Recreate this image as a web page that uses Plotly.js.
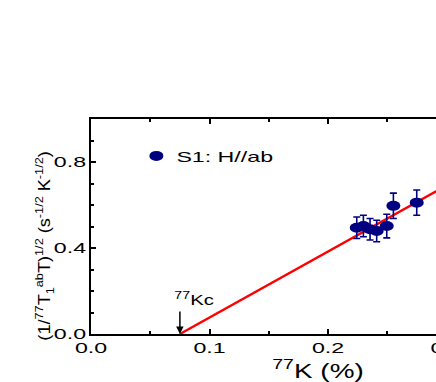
<!DOCTYPE html>
<html><head><meta charset="utf-8">
<script src="https://cdn.plot.ly/plotly-3.0.1.min.js"></script>
<style>html,body{margin:0;padding:0;overflow:hidden;background:#fff;width:436px;height:382px}</style>
</head><body>
<div id="chart"></div>
<script>
// Data
var kx = [0.2242, 0.2298, 0.2354, 0.2410, 0.2495, 0.2551, 0.2748];
var rateY = [0.494, 0.502, 0.487, 0.479, 0.502, 0.596, 0.611];
var rateErr = [0.05, 0.05, 0.05, 0.05, 0.055, 0.059, 0.059];
var fitX = [0.075, 0.383];
var fitY = [0.0, 0.945];
var kc = 0.075;
var seriesName = 'S1: H//ab';
var xTitle = '<sup>77</sup>K (%)';
var yTitle = '(1/<sup>77</sup>T<sub>1</sub><sup>ab</sup>T)<sup>1/2</sup> (s<sup>-1/2</sup> K<sup>-1/2</sup>)';
var kcLabel = '<sup>77</sup>Kc';

var FAM = 'Liberation Sans, Arial, sans-serif';
var traces = [
  {x: fitX, y: fitY, mode: 'lines', line: {color: '#ff0000', width: 2.4}, showlegend: false, hoverinfo: 'skip'},
  {x: kx, y: rateY, mode: 'markers', name: seriesName,
   marker: {color: '#000080', size: 10, symbol: 'circle'},
   error_y: {type: 'data', array: rateErr, visible: true, color: '#000080', thickness: 1.6, width: 3.5}}
];

var layout = {
  width: 560, height: 382,
  margin: {l: 91, r: 15, t: 119, b: 48},
  paper_bgcolor: '#fff', plot_bgcolor: '#fff',
  font: {family: FAM, size: 14, color: '#000'},
  showlegend: true,
  legend: {x: 0.1, y: 0.828, xanchor: 'left', yanchor: 'middle', bgcolor: 'rgba(0,0,0,0)', font: {size: 14.5}},
  xaxis: {
    range: [0, 0.383], dtick: 0.1, tickformat: '.1f', showgrid: false, zeroline: false,
    showline: true, linecolor: '#000', linewidth: 2, mirror: 'ticks',
    ticks: 'inside', ticklen: 5, tickwidth: 2, tickcolor: '#000',
    minor: {dtick: 0.05, ticks: 'inside', ticklen: 3, tickwidth: 2, tickcolor: '#000'},
    tickfont: {size: 14.5},
    title: {text: xTitle, font: {size: 21}, standoff: 1}
  },
  yaxis: {
    range: [0, 1.0], dtick: 0.4, tickformat: '.1f', showgrid: false, zeroline: false,
    showline: true, linecolor: '#000', linewidth: 2, mirror: 'ticks',
    ticks: 'inside', ticklen: 5, tickwidth: 2, tickcolor: '#000',
    minor: {dtick: 0.1, ticks: 'inside', ticklen: 3, tickwidth: 2, tickcolor: '#000'},
    tickfont: {size: 14.5}
  },
  annotations: [
    {x: kc, y: 0, xref: 'x', yref: 'y', text: '', showarrow: true, arrowhead: 2, arrowsize: 1, arrowwidth: 1.5, arrowcolor: '#000', ax: 0, ay: -24},
    {x: kc, y: 0.1, xref: 'x', yref: 'y', text: kcLabel, showarrow: false, xanchor: 'left', yanchor: 'bottom', xshift: -2, yshift: 3, font: {size: 14.5}},
    {x: -0.103, y: 0.41, xref: 'paper', yref: 'paper', text: yTitle, showarrow: false, textangle: -90, xanchor: 'center', yanchor: 'middle', font: {size: 16.5}}
  ]
};

function stretchText(nodes, s) {
  nodes.forEach(function (t) {
    var x = parseFloat(t.getAttribute('x')) || 0;
    var y = parseFloat(t.getAttribute('y')) || 0;
    var tr = t.getAttribute('transform') || '';
    t.setAttribute('transform', tr + ' translate(' + x + ',' + y + ') scale(' + s + ',1) translate(' + (-x) + ',' + (-y) + ')');
  });
}

Plotly.newPlot('chart', traces, layout, {displayModeBar: false, staticPlot: true}).then(function (gd) {
  var q = function (sel) { return Array.prototype.slice.call(gd.querySelectorAll(sel)); };
  stretchText(q('.xtick text, .ytick text'), 1.6);
  stretchText(q('.legendtext'), 1.6);
  q('.legend [clip-path]').forEach(function (e) { e.removeAttribute('clip-path'); });
  q('.legend').forEach(function (e) { e.removeAttribute('clip-path'); });
  stretchText(q('.g-xtitle text'), 1.33);
  var ann = q('.annotation-text');
  if (ann[1]) stretchText([ann[1]], 1.4);
  if (ann[2]) stretchText([ann[2]], 1.1);
  q('.point, .legendpoints path').forEach(function (p) {
    var tr = p.getAttribute('transform') || '';
    p.setAttribute('transform', tr + ' scale(1.4,1)');
  });
});
</script>
</body></html>
